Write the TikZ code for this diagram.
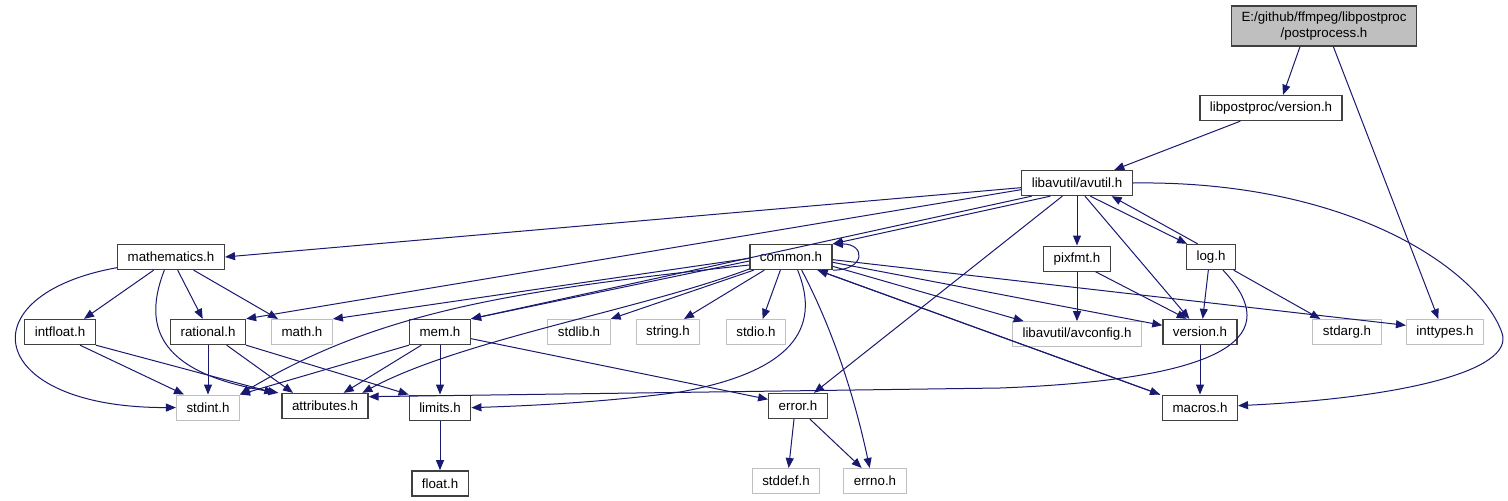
\documentclass[tikz,border=0pt]{standalone}
\usepackage{fontspec}
\setmainfont{Liberation Sans}
\usetikzlibrary{positioning, arrows.meta}

\definecolor{edgeblue}{HTML}{191970}
\definecolor{boxdark}{HTML}{404040}
\definecolor{boxgray}{HTML}{BFBFBF}

\begin{document}
\begin{tikzpicture}[
            x=0.75pt, y=-0.75pt,
            node distance=37pt,
            hfile/.style={rectangle, draw=boxdark, line width=1pt, fill=white, minimum height=18.75pt, inner xsep=7.5pt, inner ysep=0pt, font=\fontsize{10}{12}\selectfont},
            sysfile/.style={hfile, draw=boxgray, line width=0.8pt},
            srcfile/.style={hfile, fill=boxgray, minimum height=30pt, align=center, font=\fontsize{10}{11.5}\selectfont},
            dep/.style={-{Triangle[length=7.5pt, width=6pt]}, draw=edgeblue, line width=0.75pt}
            ]

            \path[use as bounding box, fill=white] (0,0) rectangle (1508,500);

            % Root
            \node[srcfile] (pp) at (1324,26) {E:/github/ffmpeg/libpostproc\\/postprocess.h};

            % Level 1
            \node[hfile] (ppver) at (1271,108) {libpostproc/version.h};

            % Level 2
            \node[hfile] (avutil) at (1077,183) {libavutil/avutil.h};

            % Level 3
            \node[hfile] (mathematics) at (171,257) {mathematics.h};
            \node[hfile] (common) at (791,257) {common.h};
            \node[hfile, below=of avutil] (pixfmt) {pixfmt.h};
            \node[hfile] (log) at (1211,257) {log.h};

            % Level 4
            \node[hfile] (intfloat) at (60,332) {intfloat.h};
            \node[hfile] (rational) at (208,332) {rational.h};
            \node[sysfile] (mathh) at (302,332) {math.h};
            \node[hfile] (mem) at (440,332) {mem.h};
            \node[sysfile] (stdlib) at (579,332) {stdlib.h};
            \node[sysfile] (string) at (668,332) {string.h};
            \node[sysfile] (stdio) at (756,332) {stdio.h};
            \node[sysfile, below=of pixfmt] (avconfig) {libavutil/avconfig.h};
            \node[hfile] (version) at (1200,332) {version.h};
            \node[sysfile] (stdarg) at (1347,332) {stdarg.h};
            \node[sysfile] (inttypes) at (1445,332) {inttypes.h};

            % Level 5
            \node[sysfile, below=of rational] (stdint) {stdint.h};
            \node[hfile] (attributes) at (325,406) {attributes.h};
            \node[hfile, below=of mem] (limits) {limits.h};
            \node[hfile] (error) at (798,406) {error.h};
            \node[hfile, below=of version] (macros) {macros.h};

            % Level 6
            \node[hfile, below=of limits] (float) {float.h};
            \node[sysfile] (stddef) at (786,481) {stddef.h};
            \node[sysfile] (errno) at (875,481) {errno.h};

            % Edges from the top
            \draw[dep] ([xshift=-18pt]pp.south) -- ([xshift=9pt]ppver.north);
            \draw[dep] ([xshift=7pt]pp.south) -- ([xshift=-5pt]inttypes.north);
            \draw[dep] ([xshift=-23pt]ppver.south) -- ([xshift=28pt]avutil.north);

            % avutil.h
            \draw[dep] ([yshift=-3.5pt]avutil.west) -- (mathematics.east);
            \draw[dep] ([yshift=-5pt]avutil.west) -- (rational.north east);
            \draw[dep] ([xshift=-34pt]avutil.south) -- (mem.north east);
            \draw[dep] ([xshift=-20pt]avutil.south) -- (common.north east);
            \draw[dep] (avutil) -- (pixfmt);
            \draw[dep] ([xshift=10pt]avutil.south) -- ([xshift=-18pt]log.north);
            \draw[dep] ([xshift=6pt]avutil.south) -- ([xshift=-8pt]version.north);
            \draw[dep] ([xshift=-11pt]avutil.south) -- ([xshift=12pt]error.north);
            \draw[dep] (avutil.east) .. controls (1350,180) and (1480,270) .. (1502,333)
                .. controls (1515,371) and (1400,398) .. ([yshift=1.5pt]macros.east);

            % mathematics.h
            \draw[dep] ([xshift=-13pt]mathematics.south) -- ([xshift=18pt]intfloat.north);
            \draw[dep] ([xshift=5pt]mathematics.south) -- ([xshift=-4pt]rational.north);
            \draw[dep] ([xshift=17pt]mathematics.south) -- ([xshift=-18pt]mathh.north);
            \draw[dep] ([xshift=-5pt]mathematics.south) .. controls (145,320) and (150,372) .. ([xshift=-35pt]attributes.north);
            \draw[dep] ([yshift=-8pt]mathematics.west) .. controls (-35,295) and (-15,408) .. (stdint.west);

            % intfloat.h, rational.h
            \draw[dep] ([xshift=15pt]intfloat.south) -- ([xshift=-18pt]stdint.north);
            \draw[dep] (intfloat.south east) -- ([xshift=-38pt]attributes.north);
            \draw[dep] (rational) -- (stdint);
            \draw[dep] ([xshift=14pt]rational.south) -- ([xshift=-24pt]attributes.north);
            \draw[dep] (rational.south east) -- (limits.north west);

            % mem.h
            \draw[dep] (mem.south west) -- (stdint.north east);
            \draw[dep] ([xshift=-14pt]mem.south) -- ([xshift=14pt]attributes.north);
            \draw[dep] (mem) -- (limits);
            \draw[dep] ([yshift=-5pt]mem.east) -- ([yshift=5pt]error.west);

            % common.h
            \draw[dep] ([yshift=-1pt]common.west) -- (mathh.north east);
            \draw[dep] ([yshift=-3pt]common.west) -- (mem.north east);
            \draw[dep] ([yshift=-6pt]common.west) .. controls (520,290) and (380,310) .. (stdint.north east);
            \draw[dep] ([yshift=-9pt]common.west) .. controls (640,310) and (460,340) .. ([xshift=28pt]attributes.north);
            \draw[dep] ([xshift=-28pt]common.south) -- (stdlib.north east);
            \draw[dep] ([xshift=-20pt]common.south) -- ([xshift=12pt]string.north);
            \draw[dep] ([xshift=-8pt]common.south) -- ([xshift=5pt]stdio.north);
            \draw[dep] ([xshift=5pt]common.south) .. controls (822,330) and (790,372) .. (680,392)
                .. controls (600,403) and (520,406) .. (limits.east);
            \draw[dep] ([xshift=8pt]common.south) .. controls (828,320) and (852,385) .. ([xshift=-4pt]errno.north);
            \draw[dep] ([yshift=-7pt]common.east) -- ([xshift=-40pt]avconfig.north);
            \draw[dep] ([yshift=-4pt]common.east) -- ([yshift=5pt]version.west);
            \draw[dep] ([yshift=-2pt]common.east) -- ([yshift=5pt]inttypes.west);
            \draw[dep] ([xshift=20pt]common.south) -- ([xshift=-30pt]macros.north);
            \draw[dep] ([xshift=-30pt]macros.north) -- ([xshift=20pt]common.south);
            \draw[dep] (common.south east) .. controls (866,270) and (866,244) .. (common.north east);

            % pixfmt.h, log.h
            \draw[dep] (pixfmt) -- (avconfig);
            \draw[dep] ([xshift=14pt]pixfmt.south) -- ([xshift=-10pt]version.north);
            \draw[dep] ([xshift=-10pt]log.north) -- ([xshift=26pt]avutil.south);
            \draw[dep] ([xshift=-2pt]log.south) -- ([xshift=2pt]version.north);
            \draw[dep] ([xshift=17pt]log.south) -- ([xshift=-20pt]stdarg.north);
            \draw[dep] ([xshift=9pt]log.south) .. controls (1275,325) and (1260,378) .. (1000,388)
                -- ([yshift=7pt]attributes.east);

            % Bottom
            \draw[dep] (version) -- (macros);
            \draw[dep] (limits) -- (float);
            \draw[dep] ([xshift=-3pt]error.south) -- ([xshift=2pt]stddef.north);
            \draw[dep] ([xshift=9pt]error.south) -- ([xshift=-10pt]errno.north);

        \end{tikzpicture}
\end{document}
